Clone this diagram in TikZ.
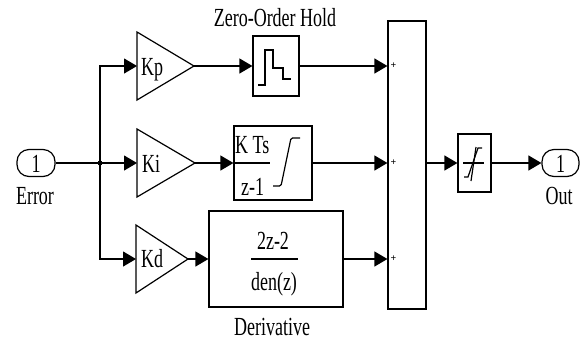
\documentclass[tikz,border=0pt]{standalone}
\usepackage{fontspec}
\setmainfont{Liberation Serif}
\usepackage{graphicx}
\usetikzlibrary{arrows.meta}
\newcommand{\tall}[1]{\scalebox{1}[1.45]{#1}}
\tikzset{
  lbl/.style={inner sep=0pt, font=\fontsize{18}{18}\selectfont},
  blk/.style={draw, line width=1.2pt, inner sep=0pt},
  port/.style={blk, minimum width=38pt, minimum height=27pt, rounded corners=12pt},
  sig/.style={line width=1.2pt, -{Triangle[length=13pt,width=15pt]}},
  plus/.style={inner sep=0pt, font=\fontsize{10}{10}\selectfont\bfseries},
}

\begin{document}
\begin{tikzpicture}[x=1pt,y=-1pt]
	\useasboundingbox (0,0) rectangle (580,341);
	%\draw[help lines,step=20] (0,0) grid (580,341);
	%PORTS
	\node[port] (error) at (36,163) {};
	\node[lbl,anchor=base] (errorno) at (36,172) {\tall{1}};
	\node[lbl,anchor=base] (errorlbl) at (35,204) {\tall{Error}};
	\node[port, minimum width=37pt] (out) at (560.5,163) {};
	\node[lbl,anchor=base] (outno) at (560.5,172) {\tall{1}};
	\node[lbl,anchor=base] (outlbl) at (559,204) {\tall{Out}};
	\coordinate (split) at (100,163);
	\fill (split) +(-1.8,-1.8) rectangle +(1.8,1.8);

	%GAINS
	\draw[line width=1.2pt] (137,32) -- (194,66) coordinate (kpout) -- (137,100) -- cycle;
	\draw[line width=1.2pt] (137,129) -- (195,163) coordinate (kiout) -- (137,197) -- cycle;
	\draw[line width=1.2pt] (136,225) -- (188,259) coordinate (kdout) -- (136,293) -- cycle;
	\coordinate (kpin) at (137,66);
	\coordinate (kiin) at (137,163);
	\coordinate (kdin) at (136,259);
	\node[lbl,anchor=base west] (kp) at (141,75) {\tall{Kp}};
	\node[lbl,anchor=base west] (ki) at (142,172) {\tall{Ki}};
	\node[lbl,anchor=base west] (kd) at (141,267) {\tall{Kd}};

	%BLOCKS
	\node[blk, minimum width=46pt, minimum height=60pt] (zoh) at (276,66) {};
	\node[lbl,anchor=base] (zohlbl) at (275,26) {\tall{Zero-Order Hold}};
	\draw[line width=1.2pt] (258,85) -| (265,50) -| (273,68) -| (283,79) -- (291,79);

	\node[blk, minimum width=78pt, minimum height=74pt] (integ) at (273,163) {};
	\node[lbl,anchor=base west] (kts) at (235,153) {\tall{K Ts}};
	\node[lbl,anchor=base west] (zm1) at (241,195) {\tall{z-1}};
	\draw[line width=1.2pt] (integ.west) -- ++(37,0);
	\draw[line width=1.2pt, rounded corners=1.5pt] (273,186) -- (281,186) -- (291,138) -- (300,138);

	\node[blk, minimum width=134pt, minimum height=96pt] (deriv) at (276,259) {};
	\node[lbl,anchor=base] (num) at (273,249) {\tall{2z-2}};
	\node[lbl,anchor=base] (den) at (274,290) {\tall{den(z)}};
	\draw[line width=1.2pt] (251,259) -- (298,259);
	\node[lbl,anchor=base] (derivlbl) at (272,335) {\tall{Derivative}};

	\node[blk, minimum width=38pt, minimum height=288pt] (sum) at (407,165) {};
	\node[plus] (p1) at (393.5,66) {+};
	\node[plus] (p2) at (393.5,163) {+};
	\node[plus] (p3) at (393.5,259) {+};

	\node[blk, minimum width=33pt, minimum height=58pt] (sat) at (474.5,163) {};
	\draw[line width=1.2pt] (463,163) -- (484,163);
	\draw[line width=1.2pt] (471,181) -- (476,147);
	\draw[line width=1.2pt] (464,177) -- (468,177) -- (478,148) -- (482,148);

	%SIGNALS
	\draw[sig] (error.east) -- (kiin);
	\draw[sig] (split) |- (kpin);
	\draw[sig] (split) |- (kdin);
	\draw[sig] (kpout) -- (zoh.west);
	\draw[sig] (kiout) -- (integ.west);
	\draw[sig] (kdout) -- (deriv.west);
	\draw[sig] (zoh.east) -- (sum.west |- zoh.east);
	\draw[sig] (integ.east) -- (sum.west |- integ.east);
	\draw[sig] (deriv.east) -- (sum.west |- deriv.east);
	\draw[sig] (sum.east |- sat.west) -- (sat.west);
	\draw[sig] (sat.east) -- (out.west);
\end{tikzpicture}
\end{document}
